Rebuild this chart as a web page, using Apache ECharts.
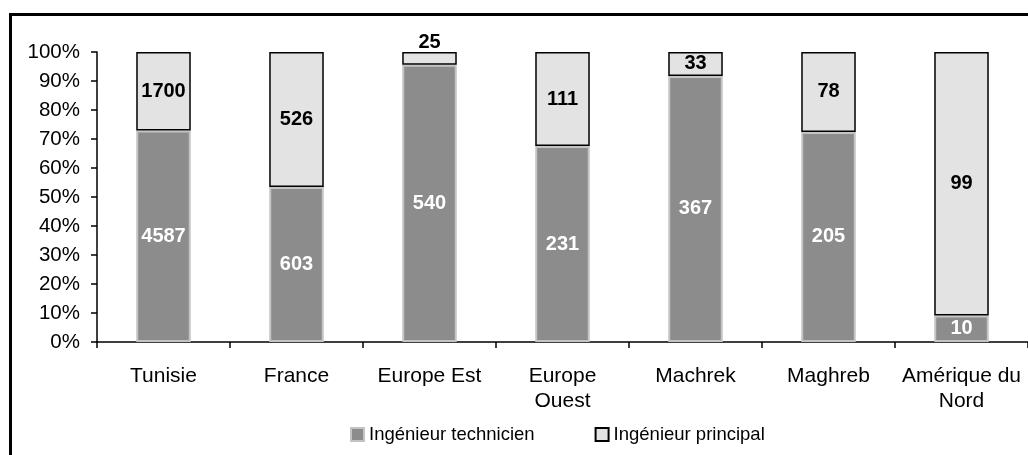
<!DOCTYPE html>
<html>
<head>
<meta charset="utf-8">
<script src="https://cdn.jsdelivr.net/npm/echarts@6/dist/echarts.min.js"></script>
<style>
html,body{margin:0;padding:0;background:#fff;}
#chart{width:1028px;height:455px;}
</style>
</head>
<body>
<div id="chart"></div>
<script>
var categories = ['Tunisie', 'France', 'Europe Est', 'Europe\nOuest', 'Machrek', 'Maghreb', 'Amérique du\nNord'];
var technicien = [4587, 603, 540, 231, 367, 205, 10];
var principal = [1700, 526, 25, 111, 33, 78, 99];
var seriesNames = ['Ingénieur technicien', 'Ingénieur principal'];

function pct(a, b, i) { return a[i] / (a[i] + b[i]) * 100; }
var techPct = technicien.map(function (v, i) { return { value: pct(technicien, principal, i), raw: v }; });
var princPct = principal.map(function (v, i) {
  var d = { value: pct(principal, technicien, i), raw: v };
  if (d.value < 6) { d.label = { position: 'top', distance: 0 }; }
  return d;
});

var FONT = "'Liberation Sans', Arial, sans-serif";
var chart = echarts.init(document.getElementById('chart'));
chart.setOption({
  animation: false,
  backgroundColor: '#fff',
  textStyle: { fontFamily: FONT },
  graphic: [{
    type: 'rect',
    shape: { x: 10.5, y: 14.5, width: 1200, height: 600 },
    style: { fill: 'none', stroke: '#000', lineWidth: 3 },
    silent: true, z: 100
  }],
  grid: { left: 97, right: -7, top: 52, bottom: 113, containLabel: false },
  legend: {
    left: 350, top: 425, padding: 0,
    itemWidth: 13, itemHeight: 13, itemGap: 60,
    icon: 'rect',
    textStyle: { fontFamily: FONT, fontSize: 18.5, color: '#000' },
    data: [
      { name: seriesNames[0], itemStyle: { color: '#8c8c8c', borderColor: '#c4c4c4', borderWidth: 2 } },
      { name: seriesNames[1], itemStyle: { color: '#e3e3e3', borderColor: '#000', borderWidth: 2 } }
    ]
  },
  xAxis: {
    type: 'category',
    data: categories,
    axisLine: { lineStyle: { color: '#000', width: 1.5 } },
    axisTick: { show: true, length: 6, lineStyle: { color: '#000', width: 1.5 } },
    axisLabel: { color: '#000', fontFamily: FONT, fontSize: 21, lineHeight: 25, margin: 22, interval: 0 },
    splitLine: { show: false }
  },
  yAxis: {
    type: 'value',
    min: 0, max: 100, interval: 10,
    axisLine: { show: true, lineStyle: { color: '#000', width: 1.5 } },
    axisTick: { show: true, length: 6, lineStyle: { color: '#000', width: 1.5 } },
    axisLabel: { color: '#000', fontFamily: FONT, fontSize: 20.5, margin: 17, formatter: '{value}%' },
    splitLine: { show: false }
  },
  series: [
    {
      name: seriesNames[0], type: 'bar', stack: 'total', barWidth: '41%',
      data: techPct,
      itemStyle: { color: '#8c8c8c', borderColor: '#c4c4c4', borderWidth: 2 },
      label: {
        show: true, position: 'inside', color: '#fff', fontWeight: 'bold', fontFamily: FONT, fontSize: 20,
        formatter: function (p) { return p.data.raw; }
      }
    },
    {
      name: seriesNames[1], type: 'bar', stack: 'total', barWidth: '41%',
      data: princPct,
      itemStyle: { color: '#e3e3e3', borderColor: '#000', borderWidth: 1.5 },
      label: {
        show: true, position: 'inside', color: '#000', fontWeight: 'bold', fontFamily: FONT, fontSize: 20,
        formatter: function (p) { return p.data.raw; }
      }
    }
  ]
});
</script>
</body>
</html>
